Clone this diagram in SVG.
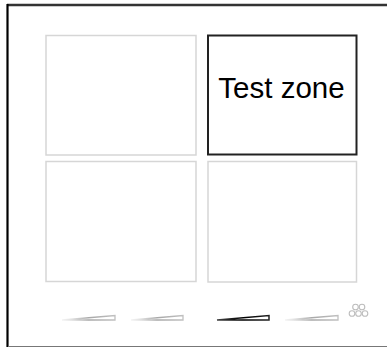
<svg xmlns="http://www.w3.org/2000/svg" width="387" height="347" viewBox="0 0 387 347">
<defs>
<linearGradient id="gl" x1="0" y1="0" x2="1" y2="0">
<stop offset="0" stop-color="#d8d8d8" stop-opacity="0.3"/>
<stop offset="0.5" stop-color="#a8a8a8"/>
<stop offset="1" stop-color="#c0c0c0"/>
</linearGradient>
<linearGradient id="gd" x1="0" y1="0" x2="1" y2="0">
<stop offset="0" stop-color="#444"/>
<stop offset="0.5" stop-color="#000"/>
<stop offset="1" stop-color="#222"/>
</linearGradient>
<style>
.zone{fill:#fff;stroke:#d6d6d6;stroke-width:1.5}
.active{fill:#fff;stroke:#222;stroke-width:2}
.sl{fill:#fff;stroke:url(#gl);stroke-width:1.3}
.sd{fill:#fff;stroke:url(#gd);stroke-width:1.5}
.dot{fill:none;stroke:#bdbdbd;stroke-width:1.1}
.lbl{font-family:"Liberation Sans",Arial,sans-serif;font-size:29.5px;fill:#000}
</style>
</defs>
<rect width="387" height="347" fill="#fff"/>
<g id="frame">
<line x1="7" y1="5" x2="387" y2="5" stroke="#333" stroke-width="2.5"/>
<line x1="7.5" y1="4" x2="7.5" y2="347" stroke="#000" stroke-width="2.2"/>
<line x1="8" y1="346.5" x2="387" y2="346.5" stroke="#777" stroke-width="1"/>
</g>
<g id="zone-top-left"><rect class="zone" x="46" y="35.5" width="150" height="119.5"/></g>
<g id="zone-top-right"><rect class="active" x="208" y="35.5" width="148.5" height="119"/>
<text class="lbl" x="281.5" y="98" text-anchor="middle">Test zone</text></g>
<g id="zone-bottom-left"><rect class="zone" x="46" y="161.5" width="150" height="120"/></g>
<g id="zone-bottom-right"><rect class="zone" x="208" y="161.5" width="148.5" height="120.5"/></g>
<g id="sliders">
<polygon class="sl" points="62,320 115,315.5 115,320"/>
<polygon class="sl" points="131,320 183,315.5 183,320"/>
<polygon class="sd" points="217,320 269,315.5 269,320"/>
<polygon class="sl" points="285,320 338,315.5 338,320"/>
</g>
<g id="dots">
<circle class="dot" cx="355.5" cy="307" r="2.8"/>
<circle class="dot" cx="362" cy="307" r="2.8"/>
<circle class="dot" cx="352" cy="313.5" r="2.8"/>
<circle class="dot" cx="358.5" cy="313.5" r="2.8"/>
<circle class="dot" cx="365" cy="313.5" r="2.8"/>
</g>
</svg>
